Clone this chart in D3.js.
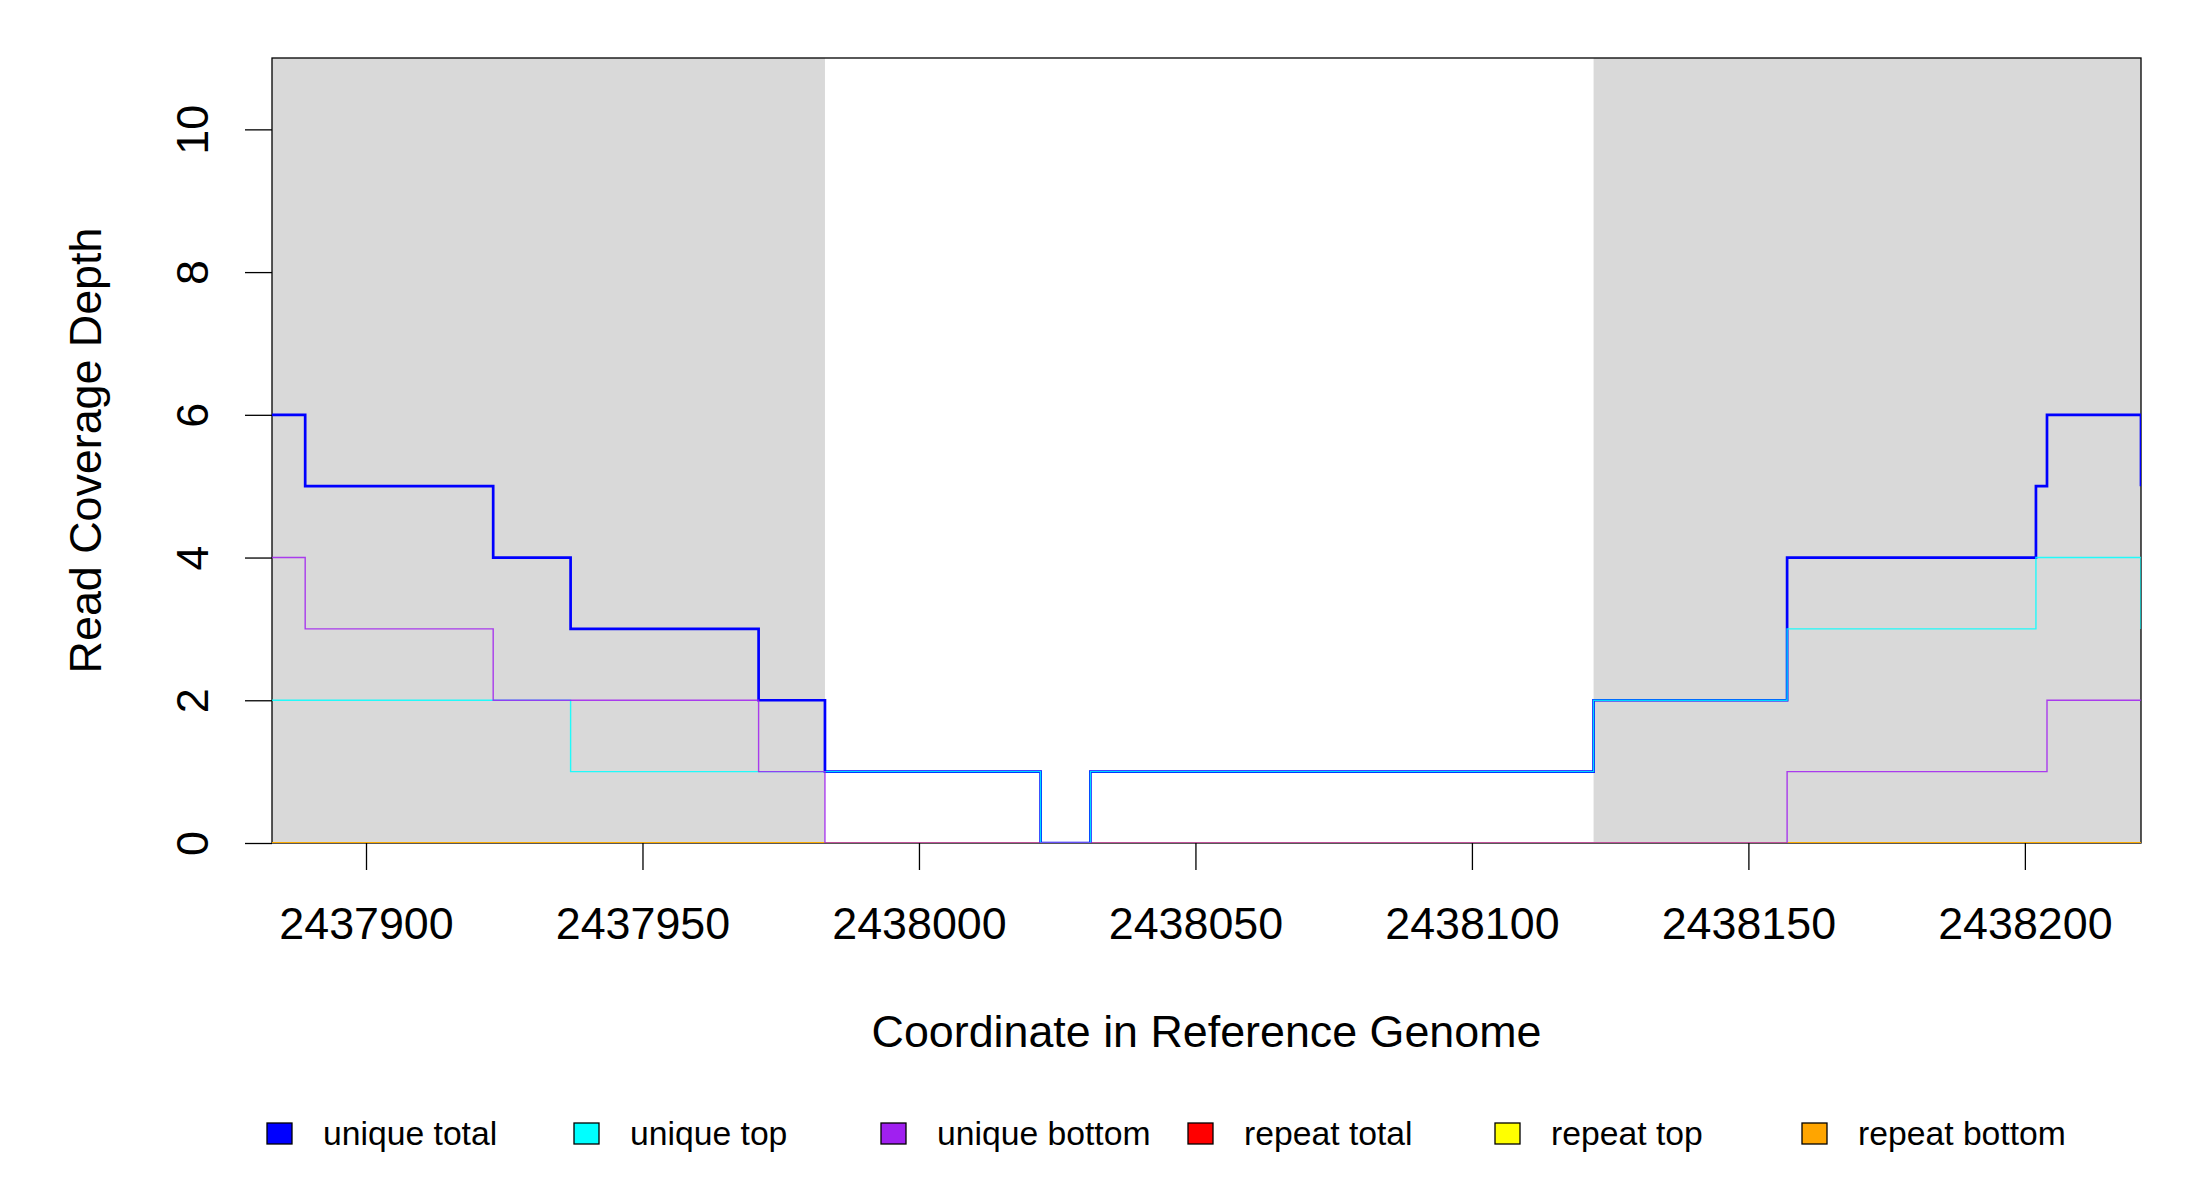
<!DOCTYPE html>
<html>
<head>
<meta charset="utf-8">
<script src="https://cdn.jsdelivr.net/npm/d3@7"></script>
<style>
  body { margin: 0; background: #ffffff; }
  svg { display: block; font-family: "Liberation Sans", Arial, sans-serif; }
</style>
</head>
<body>
<div id="graph"></div>
<script>

//----------------------------------------------------------
// data

var positions = [2437883, 2437889, 2437923, 2437937, 2437971, 2437983, 2438022,
                 2438031, 2438122, 2438157, 2438202, 2438204, 2438221];

var unique_total  = [6, 5, 4, 3, 2, 1, 0, 1, 2, 4, 5, 6, 5];
var unique_top    = [2, 2, 2, 1, 1, 1, 0, 1, 2, 3, 4, 4, 3];
var unique_bottom = [4, 3, 2, 2, 1, 0, 0, 0, 0, 1, 1, 2, 2];
var repeat_total  = [0, 0, 0, 0, 0, 0, 0, 0, 0, 0, 0, 0, 0];
var repeat_top    = [0, 0, 0, 0, 0, 0, 0, 0, 0, 0, 0, 0, 0];
var repeat_bottom = [0, 0, 0, 0, 0, 0, 0, 0, 0, 0, 0, 0, 0];

// shaded (feature) regions
var shaded_regions = [[2437883, 2437983], [2438122, 2438221]];

var x_ticks = [2437900, 2437950, 2438000, 2438050, 2438100, 2438150, 2438200];
var y_ticks = [0, 2, 4, 6, 8, 10];

var legend_names  = ["unique total", "unique top", "unique bottom",
                     "repeat total", "repeat top", "repeat bottom"];
var legend_colours = ["#0000ff", "#00ffff", "#a020f0", "#ff0000", "#ffff00", "#ffa500"];


//----------------------------------------------------------
const g_width = 2200;
const g_height = 1200;
const g_plot = { left: 272, right: 2141, top: 58, bottom: 843 };
const g_font = 44.8;

var g_svg = d3.select("#graph")
  .append("svg")
    .attr("width", g_width)
    .attr("height", g_height);

g_svg.append("rect")
    .attr("width", g_width)
    .attr("height", g_height)
    .attr("fill", "#ffffff");

var g_x = d3.scaleLinear()
    .domain([positions[0], positions[positions.length - 1]])
    .range([g_plot.left, g_plot.right]);

var g_y = d3.scaleLinear()
    .domain([0, 11])
    .range([g_plot.bottom, g_plot.top]);


//----------------------------------------------------------
function DrawShading() {
    g_svg.append("g")
      .selectAll("rect")
      .data(shaded_regions)
      .join("rect")
        .attr("x", function (d) { return g_x(d[0]); })
        .attr("y", g_plot.top)
        .attr("width", function (d) { return g_x(d[1]) - g_x(d[0]); })
        .attr("height", g_plot.bottom - g_plot.top)
        .attr("fill", "#d9d9d9");
}


function DrawAxes() {
    const x_axis = d3.axisBottom(g_x)
        .tickValues(x_ticks)
        .tickSize(27)
        .tickFormat(d3.format("d"));

    const xg = g_svg.append("g")
        .attr("transform", "translate(0," + g_plot.bottom + ")")
        .call(x_axis);
    xg.select(".domain").remove();
    xg.selectAll("line").attr("stroke", "#000").attr("stroke-width", 1.3);
    xg.selectAll("text")
        .attr("y", 96)
        .attr("dy", null)
        .attr("font-size", g_font)
        .attr("font-family", "Liberation Sans, Arial, sans-serif")
        .attr("fill", "#000");

    const y_axis = d3.axisLeft(g_y)
        .tickValues(y_ticks)
        .tickSize(27);

    const yg = g_svg.append("g")
        .attr("transform", "translate(" + g_plot.left + ",0)")
        .call(y_axis);
    yg.select(".domain").remove();
    yg.selectAll("line").attr("stroke", "#000").attr("stroke-width", 1.3);
    yg.selectAll("text")
        .attr("x", null)
        .attr("dy", null)
        .attr("transform", "translate(-64,0) rotate(-90)")
        .attr("text-anchor", "middle")
        .attr("font-size", g_font)
        .attr("font-family", "Liberation Sans, Arial, sans-serif")
        .attr("fill", "#000");

    g_svg.append("text")
        .attr("x", (g_plot.left + g_plot.right) / 2)
        .attr("y", 1047)
        .attr("text-anchor", "middle")
        .attr("font-size", g_font)
        .text("Coordinate in Reference Genome");

    g_svg.append("text")
        .attr("transform", "translate(101," + ((g_plot.top + g_plot.bottom) / 2) + ") rotate(-90)")
        .attr("text-anchor", "middle")
        .attr("font-size", g_font)
        .text("Read Coverage Depth");
}


function DrawBox() {
    g_svg.append("rect")
        .attr("x", g_plot.left)
        .attr("y", g_plot.top)
        .attr("width", g_plot.right - g_plot.left)
        .attr("height", g_plot.bottom - g_plot.top)
        .attr("fill", "none")
        .attr("stroke", "#000")
        .attr("stroke-width", 1.3);
}


function DrawSeries() {
    g_svg.append("clipPath")
        .attr("id", "plot-clip")
      .append("rect")
        .attr("x", g_plot.left)
        .attr("y", g_plot.top)
        .attr("width", g_plot.right - g_plot.left)
        .attr("height", g_plot.bottom - g_plot.top);

    const step = d3.line()
        .x(function (d) { return g_x(d[0]); })
        .y(function (d) { return g_y(d[1]); })
        .curve(d3.curveStepAfter);

    // repeats first, then the unique reads on top (as in the picture)
    const series = [
        { values: repeat_total,  colour: legend_colours[3], width: 1.6, opacity: 0.9 },
        { values: repeat_top,    colour: legend_colours[4], width: 1.6, opacity: 0.9 },
        { values: repeat_bottom, colour: legend_colours[5], width: 1.6, opacity: 0.95 },
        { values: unique_total,  colour: legend_colours[0], width: 2.7, opacity: 1.0 },
        { values: unique_top,    colour: legend_colours[1], width: 1.4, opacity: 0.85 },
        { values: unique_bottom, colour: legend_colours[2], width: 1.4, opacity: 0.85 }
    ];

    g_svg.append("g")
        .attr("clip-path", "url(#plot-clip)")
      .selectAll("path")
      .data(series)
      .join("path")
        .attr("d", function (s) {
            return step(positions.map(function (p, i) { return [p, s.values[i]]; }));
        })
        .attr("fill", "none")
        .attr("stroke", function (s) { return s.colour; })
        .attr("stroke-width", function (s) { return s.width; })
        .attr("stroke-opacity", function (s) { return s.opacity; });
}


function DrawLegend() {
    const item = g_svg.append("g")
      .selectAll("g")
      .data(legend_names)
      .join("g")
        .attr("transform", function (d, i) {
            return "translate(" + (267 + 307 * i) + ",1123)";
        });

    item.append("rect")
        .attr("width", 25)
        .attr("height", 21)
        .attr("fill", function (d, i) { return legend_colours[i]; })
        .attr("stroke", "#000")
        .attr("stroke-width", 1.3);

    item.append("text")
        .attr("x", 56)
        .attr("y", 22)
        .attr("font-size", 33.7)
        .text(function (d) { return d; });
}


//----------------------------------------------------------
DrawShading();
DrawBox();
DrawSeries();
DrawAxes();
DrawLegend();

</script>
</body>
</html>
